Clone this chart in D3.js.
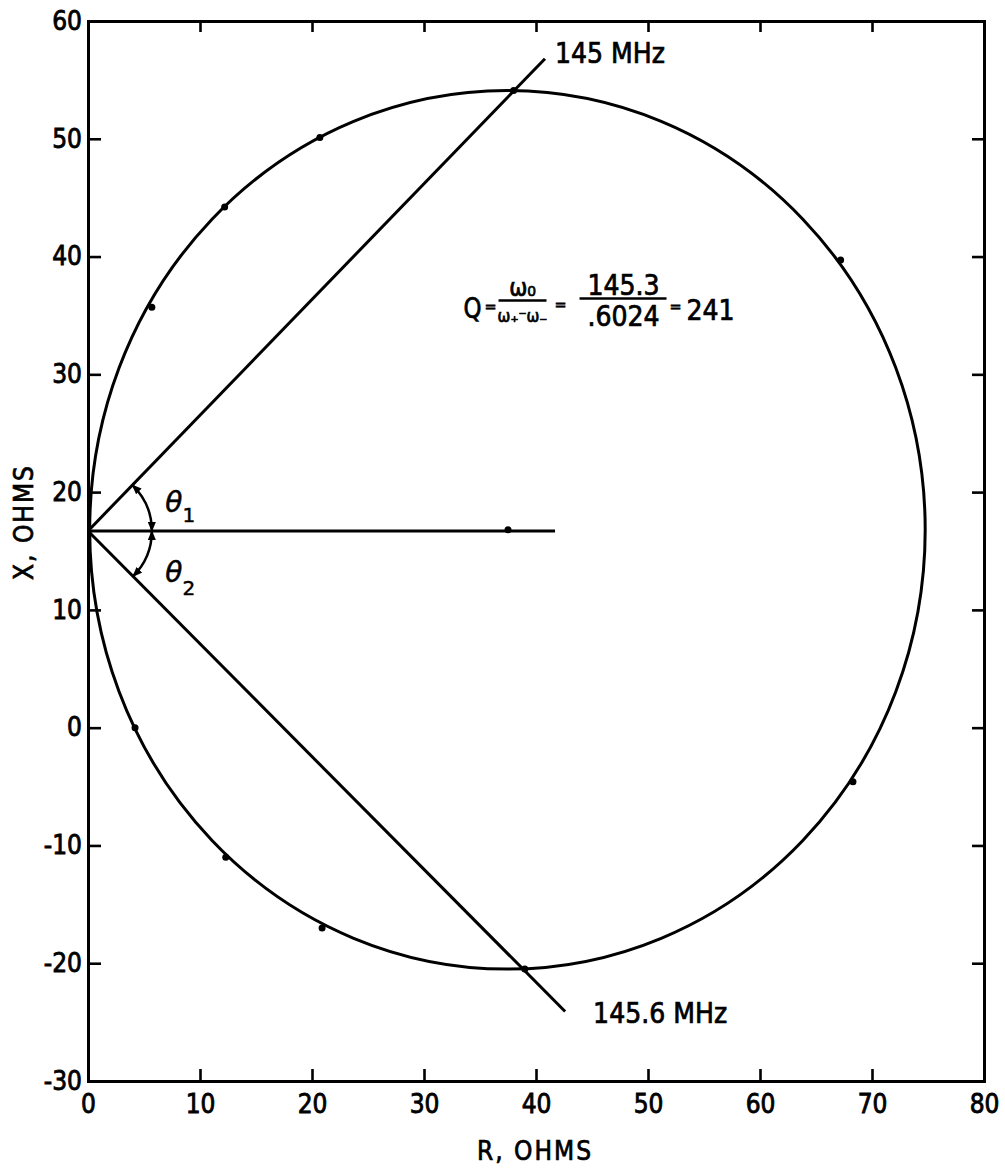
<!DOCTYPE html>
<html>
<head>
<meta charset="utf-8">
<script src="https://cdn.jsdelivr.net/npm/d3@7"></script>
<style>
  html, body { margin: 0; padding: 0; background: #fff; }
  svg { display: block; }
  .lbl { font-family: "DejaVu Sans Condensed", "DejaVu Sans", "Liberation Sans", sans-serif; font-stretch: condensed; fill: #000; stroke: #000; stroke-width: 0.7; }
</style>
</head>
<body>
<svg id="chart" width="1005" height="1170"></svg>
<script>
// ---------------- data ----------------
const xTicks = [0, 10, 20, 30, 40, 50, 60, 70, 80];
const yTicks = [60, 50, 40, 30, 20, 10, 0, -10, -20, -30];
const xLabel = "R, OHMS";
const yLabel = "X, OHMS";

// impedance circle: centre (R, X) and radius in ohms
const locusCenter = [37.45, 16.8];
const locusRadius = 37.3;

// measured points marked on the locus
const dotR = [20.7, 12.2, 5.7, 38.0, 67.2, 68.3, 4.2, 12.3, 20.9, 39.0, 37.5];
const dotX = [50.1, 44.2, 35.7, 54.1, 39.7, -4.6, 0.0, -11.0, -17.0, -20.5, 16.8];

// rays from the origin point on the reactance axis
const rayOrigin = [0, 16.7];
const rayEndR = [40.8, 41.7, 42.6];
const rayEndX = [56.8, 16.7, -24.1];
const rayLabels = ["145 MHz", "", "145.6 MHz"];
const rayLabelPos = [[41.7, 56.4], null, [45.1, -25.1]];

// angle arcs
const arcRadiusR = 5.7;
const thetaLabels = [{ sub: "1", pos: [6.9, 18.3] }, { sub: "2", pos: [6.9, 12.4] }];

// Q formula
const formulaAnchor = [34.6, 35.6];
const qNum = "145.3", qDen = ".6024", qVal = "241";
const wNum = "ω₀", wDen = "ω₊⁻ω₋";

// ---------------- chart ----------------
const svg = d3.select("#chart");
const x = d3.scaleLinear().domain([0, 80]).range([88, 984]);
const y = d3.scaleLinear().domain([-30, 60]).range([1081, 21]);
const font = '"DejaVu Sans Condensed", "DejaVu Sans", "Liberation Sans", sans-serif';

function styleAxis(g) {
  g.select(".domain").attr("stroke", "#000").attr("stroke-width", 3).attr("stroke-linecap", "square");
  g.selectAll(".tick line").attr("stroke", "#000").attr("stroke-width", 2.6);
  g.selectAll(".tick text").attr("font-family", font).attr("font-stretch", "condensed")
    .attr("font-size", 26).attr("fill", "#000").attr("stroke", "#000").attr("stroke-width", 0.8);
}
const fmt = d => String(d);

svg.append("g").attr("transform", `translate(0,${y(-30)})`)
  .call(d3.axisBottom(x).tickValues(xTicks).tickSizeInner(-12).tickSizeOuter(0).tickPadding(14).tickFormat(fmt))
  .call(styleAxis);
svg.append("g").attr("transform", `translate(0,${y(60)})`)
  .call(d3.axisTop(x).tickValues(xTicks.slice(1, -1)).tickSizeInner(-11).tickSizeOuter(0).tickFormat(() => ""))
  .call(styleAxis);
svg.append("g").attr("transform", `translate(${x(0)},0)`)
  .call(d3.axisLeft(y).tickValues(yTicks).tickSizeInner(-13).tickSizeOuter(0).tickPadding(6).tickFormat(fmt))
  .call(styleAxis);
svg.append("g").attr("transform", `translate(${x(80)},0)`)
  .call(d3.axisRight(y).tickValues(yTicks.slice(1, -1)).tickSizeInner(-12).tickSizeOuter(0).tickFormat(() => ""))
  .call(styleAxis);

// axis titles
svg.append("text").attr("class", "lbl").attr("x", 535).attr("y", 1160)
  .attr("text-anchor", "middle").attr("font-size", 26).attr("letter-spacing", 2)
  .style("font-stretch", "normal").attr("font-family", '"DejaVu Sans", sans-serif').text(xLabel);
svg.append("text").attr("class", "lbl")
  .attr("transform", `translate(33,${522}) rotate(-90)`)
  .attr("text-anchor", "middle").attr("font-size", 26).attr("letter-spacing", 2)
  .style("font-stretch", "normal").attr("font-family", '"DejaVu Sans", sans-serif').text(yLabel);

// locus circle
svg.append("ellipse")
  .attr("cx", x(locusCenter[0])).attr("cy", y(locusCenter[1]))
  .attr("rx", x(locusRadius) - x(0)).attr("ry", y(0) - y(locusRadius))
  .attr("fill", "none").attr("stroke", "#000").attr("stroke-width", 3);

// rays
const rays = rayEndR.map((r, i) => ({ end: [r, rayEndX[i]], label: rayLabels[i], lp: rayLabelPos[i] }));
svg.selectAll("line.ray").data(rays).join("line").attr("class", "ray")
  .attr("x1", x(rayOrigin[0])).attr("y1", y(rayOrigin[1]))
  .attr("x2", d => x(d.end[0])).attr("y2", d => y(d.end[1]))
  .attr("stroke", "#000").attr("stroke-width", 3);
svg.selectAll("text.raylbl").data(rays.filter(d => d.label)).join("text").attr("class", "lbl raylbl")
  .attr("x", d => x(d.lp[0])).attr("y", d => y(d.lp[1]))
  .attr("font-size", 28).text(d => d.label);

// dots
svg.selectAll("circle.dot").data(dotR.map((r, i) => [r, dotX[i]])).join("circle").attr("class", "dot")
  .attr("cx", d => x(d[0])).attr("cy", d => y(d[1])).attr("r", 3.5).attr("fill", "#000");

// arrow marker
const defs = svg.append("defs");
defs.append("marker").attr("id", "arr").attr("viewBox", "0 0 10 8")
  .attr("refX", 9).attr("refY", 4).attr("markerWidth", 10).attr("markerHeight", 8)
  .attr("markerUnits", "userSpaceOnUse").attr("orient", "auto-start-reverse")
  .append("path").attr("d", "M0,0L10,4L0,8Z").attr("fill", "#000");

// angle arcs
const vx = x(rayOrigin[0]), vy = y(rayOrigin[1]);
const rPix = x(arcRadiusR) - x(0);
const angUp = Math.atan2(y(rayEndX[0]) - vy, x(rayEndR[0]) - vx);
const angDn = Math.atan2(y(rayEndX[2]) - vy, x(rayEndR[2]) - vx);
[[angUp, 0], [0, angDn]].forEach(([a0, a1]) => {
  const p = d3.path();
  p.arc(vx, vy, rPix, a0, a1, false);
  svg.append("path").attr("d", p.toString()).attr("fill", "none")
    .attr("stroke", "#000").attr("stroke-width", 2.5)
    .attr("marker-start", "url(#arr)").attr("marker-end", "url(#arr)");
});
thetaLabels.forEach(t => {
  const tx = svg.append("text").attr("x", x(t.pos[0])).attr("y", y(t.pos[1]))
    .attr("font-family", '"DejaVu Sans", sans-serif').attr("font-style", "italic")
    .attr("font-size", 28).attr("fill", "#000").attr("stroke", "#000").attr("stroke-width", 0.5);
  tx.append("tspan").text("θ");
  tx.append("tspan").attr("font-size", 20).attr("font-style", "normal").attr("dy", t.sub === "1" ? 10 : 13).text(t.sub);
});

// Q formula
const fg = svg.append("g").attr("transform", `translate(${x(formulaAnchor[0])},${y(formulaAnchor[1])})`);
function ft(tx, ty, s, size, anchor, len) {
  const t = fg.append("text").attr("class", "lbl").attr("x", tx).attr("y", ty)
    .attr("font-size", size).attr("text-anchor", anchor || "start").text(s);
  if (len) t.attr("textLength", len).attr("lengthAdjust", "spacingAndGlyphs");
  return t;
}
ft(-12, 10, "Q", 28, "start", 18);
ft(15, 4, "=", 16, "middle");
fg.append("line").attr("x1", 23).attr("x2", 71).attr("y1", -8).attr("y2", -8).attr("stroke", "#000").attr("stroke-width", 2.5);
ft(47, -12, wNum, 24, "middle");
ft(47, 14, wDen, 17, "middle");
ft(85, 2, "=", 16, "middle");
fg.append("line").attr("x1", 104).attr("x2", 191).attr("y1", -10).attr("y2", -10).attr("stroke", "#000").attr("stroke-width", 2.5);
ft(148, -13, qNum, 28, "middle");
ft(148, 18, qDen, 28, "middle");
ft(200, 4, "=", 16, "middle");
ft(211, 12, qVal, 28);
</script>
</body>
</html>
